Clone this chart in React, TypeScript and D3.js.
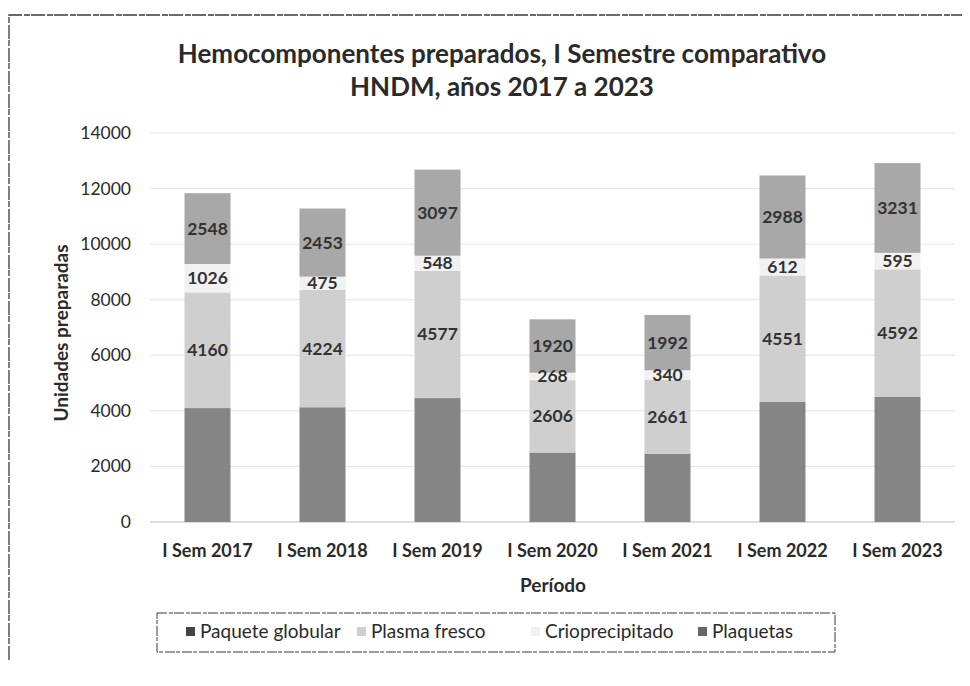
import React from "react";
import * as d3 from "d3";

const categories = ["I Sem 2017", "I Sem 2018", "I Sem 2019", "I Sem 2020", "I Sem 2021", "I Sem 2022", "I Sem 2023"];
const paqueteGlobular = [4100, 4130, 4460, 2500, 2460, 4320, 4500];
const plasmaFresco = [4160, 4224, 4577, 2606, 2661, 4551, 4592];
const crioprecipitado = [1026, 475, 548, 268, 340, 612, 595];
const plaquetas = [2548, 2453, 3097, 1920, 1992, 2988, 3231];
const seriesNames = ["Paquete globular", "Plasma fresco", "Crioprecipitado", "Plaquetas"];
const yTicks = [0, 2000, 4000, 6000, 8000, 10000, 12000, 14000];
const titleLines = ["Hemocomponentes preparados, I Semestre comparativo", "HNDM, años 2017 a 2023"];

const seriesValues = [paqueteGlobular, plasmaFresco, crioprecipitado, plaquetas];
const colors = ["#858585", "#cfcfcf", "#f1f1f1", "#a8a8a8"];
const showLabels = [false, true, true, true];

const W = 970, H = 686;
const FONT = "Lato, 'Open Sans', sans-serif";

export default function App() {
  const x = d3.scaleBand<string>().domain(categories).range([150, 955]).paddingInner(0.6).paddingOuter(0.3);
  const y = d3.scaleLinear().domain([0, 14000]).range([522, 133]);

  const table = categories.map((c, i) => {
    const row: any = { cat: c };
    seriesNames.forEach((s, k) => (row[s] = seriesValues[k][i]));
    return row;
  });
  const stacked = d3.stack().keys(seriesNames)(table);

  const legendItems = [
    { x: 186, name: seriesNames[0] },
    { x: 357, name: seriesNames[1] },
    { x: 531, name: seriesNames[2] },
    { x: 698, name: seriesNames[3] },
  ];

  return (
    <div style={{ position: "absolute", left: 0, top: 0 }}>
      <svg width={W} height={H} style={{ display: "block", background: "#ffffff" }} fontFamily={FONT}>
        {/* outer frame (scanned border) */}
        <path d="M9,660 L9,15 L962,15" fill="none" stroke="#3a3a3a" strokeWidth={1.3} strokeDasharray="14 2 6 1" />

        {/* title */}
        {titleLines.map((t, i) => (
          <text key={i} x={502} y={63 + i * 33} textAnchor="middle" fontSize={26} fontWeight={700} fill="#2a2a2a">
            {t}
          </text>
        ))}

        {/* gridlines */}
        {yTicks.map((t) => (
          <line key={t} x1={150} x2={955} y1={y(t)} y2={y(t)} stroke={t === 0 ? "#bdbdbd" : "#e3e3e3"} strokeWidth={1} />
        ))}

        {/* y tick labels */}
        {yTicks.map((t) => (
          <text key={"yl" + t} x={131} y={y(t) + 6} textAnchor="end" fontSize={17.5} fill="#2a2a2a">
            {t}
          </text>
        ))}

        {/* y axis title */}
        <text transform={`translate(68,333) rotate(-90)`} textAnchor="middle" fontSize={19} fontWeight={700} fill="#2a2a2a">
          Unidades preparadas
        </text>

        {/* bars */}
        {stacked.map((layer, k) => (
          <g key={layer.key}>
            {layer.map((d: any, i: number) => (
              <rect
                key={i}
                x={x(categories[i])}
                y={y(d[1])}
                width={x.bandwidth()}
                height={y(d[0]) - y(d[1])}
                fill={colors[k]}
              />
            ))}
          </g>
        ))}

        {/* data labels */}
        {stacked.map((layer, k) =>
          showLabels[k]
            ? layer.map((d: any, i: number) => (
                <text
                  key={layer.key + i}
                  x={(x(categories[i]) as number) + x.bandwidth() / 2}
                  y={y((d[0] + d[1]) / 2) + 6}
                  textAnchor="middle"
                  fontSize={17.5}
                  fontWeight={700}
                  fill="#333"
                >
                  {seriesValues[k][i]}
                </text>
              ))
            : null
        )}

        {/* x tick labels */}
        {categories.map((c) => (
          <text key={c} x={(x(c) as number) + x.bandwidth() / 2} y={557} textAnchor="middle" fontSize={18} fontWeight={700} fill="#2a2a2a">
            {c}
          </text>
        ))}

        {/* x axis title */}
        <text x={553} y={592} textAnchor="middle" fontSize={19} fontWeight={700} fill="#2a2a2a">
          Período
        </text>

        {/* legend */}
        <rect x={157} y={613} width={678} height={39} fill="none" stroke="#3a3a3a" strokeWidth={1} strokeDasharray="10 2 4 1" />
        {legendItems.map((it, k) => (
          <g key={it.name}>
            <rect x={it.x} y={627} width={9} height={9} fill={k === 0 ? "#444" : k === 3 ? "#666" : colors[k]} />
            <text x={it.x + 14} y={638} fontSize={19} fill="#2a2a2a">
              {it.name}
            </text>
          </g>
        ))}
      </svg>
    </div>
  );
}
